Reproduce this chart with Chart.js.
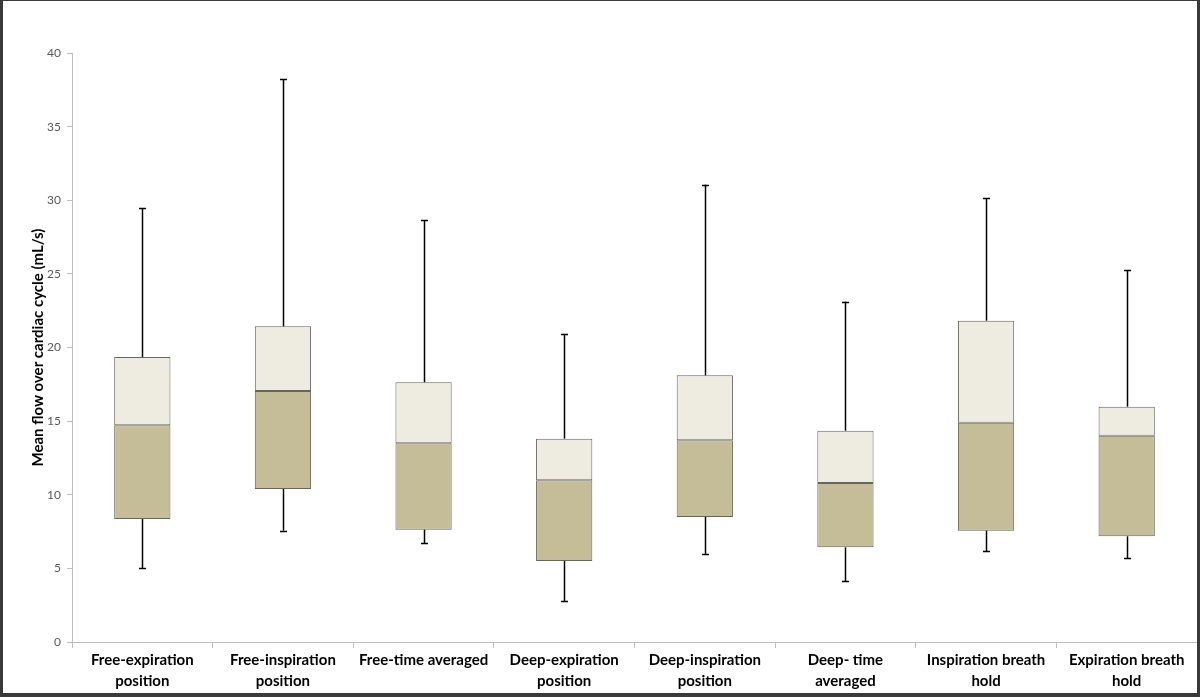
<!DOCTYPE html>
<html>
<head>
<meta charset="utf-8">
<script src="https://cdn.jsdelivr.net/npm/chart.js@4.4.1/dist/chart.umd.min.js"></script>
<style>
  html, body { margin: 0; padding: 0; background: #fff; }
  #frame {
    width: 1194px; height: 692px;
    border-style: solid; border-color: #3a3a3a;
    border-width: 1px 3px 4px 3px;
    background: #fff;
  }
</style>
</head>
<body>
<div id="frame"><canvas id="boxChart" width="1194" height="692"></canvas></div>
<script>
var categories = [
    ["Free-expiration", "position"],
    ["Free-inspiration", "position"],
    "Free-time averaged",
    ["Deep-expiration", "position"],
    ["Deep-inspiration", "position"],
    ["Deep- time", "averaged"],
    ["Inspiration breath", "hold"],
    ["Expiration breath", "hold"]
];
var minVals    = [5.0, 7.56, 6.72, 2.78, 5.98, 4.14, 6.18, 5.70];
var q1Vals     = [8.35, 10.39, 7.63, 5.50, 8.49, 6.43, 7.56, 7.18];
var medianVals = [14.72, 17.05, 13.49, 10.98, 13.70, 10.80, 14.89, 14.01];
var q3Vals     = [19.35, 21.44, 17.64, 13.81, 18.11, 14.35, 21.82, 15.98];
var maxVals    = [29.45, 38.21, 28.64, 20.92, 31.06, 23.11, 30.15, 25.24];

var lowerBox = q1Vals.map(function (v, i) { return [v, medianVals[i]]; });
var upperBox = medianVals.map(function (v, i) { return [v, q3Vals[i]]; });

// whiskers drawn from the min/max arrays through the chart scales
var whiskers = {
    id: 'whiskers',
    afterDatasetsDraw: function (chart) {
        var ctx = chart.ctx;
        var x = chart.scales.x, y = chart.scales.y;
        ctx.save();
        ctx.strokeStyle = '#000';
        ctx.lineWidth = 1.5;
        categories.forEach(function (c, i) {
            var cx = Math.round(x.getPixelForValue(i)) + 0.5;
            var segs = [[q3Vals[i], maxVals[i]], [minVals[i], q1Vals[i]]];
            segs.forEach(function (s) {
                ctx.beginPath();
                ctx.moveTo(cx, y.getPixelForValue(s[0]));
                ctx.lineTo(cx, y.getPixelForValue(s[1]));
                ctx.stroke();
            });
            [maxVals[i], minVals[i]].forEach(function (v) {
                var py = Math.round(y.getPixelForValue(v)) + 0.5;
                ctx.beginPath();
                ctx.moveTo(cx - 3.5, py);
                ctx.lineTo(cx + 3.5, py);
                ctx.stroke();
            });
        });
        ctx.restore();
    }
};

var boxChart = new Chart("boxChart", {
    type: 'bar',
    data: {
        labels: categories,
        datasets: [
            {
                label: 'Q1-Median',
                data: lowerBox,
                backgroundColor: '#c4bd97',
                borderColor: '#66665e',
                borderWidth: 1,
                borderSkipped: false,
                grouped: false
            },
            {
                label: 'Median-Q3',
                data: upperBox,
                backgroundColor: '#eeece1',
                borderColor: '#66665e',
                borderWidth: 1,
                borderSkipped: false,
                grouped: false
            }
        ]
    },
    plugins: [whiskers],
    options: {
        responsive: false,
        animation: false,
        categoryPercentage: 0.4,
        barPercentage: 1.0,
        layout: { padding: { top: 52, right: 0, bottom: 0, left: 0 } },
        plugins: {
            legend: { display: false },
            tooltip: { enabled: false }
        },
        scales: {
            x: {
                offset: true,
                grid: { display: true, drawOnChartArea: false, offset: true, tickLength: 6, color: '#bfbfbf' },
                border: { color: '#bfbfbf' },
                ticks: {
                    color: '#000',
                    font: { family: 'Lato', size: 15, weight: 'bold', lineHeight: 1.4 },
                    maxRotation: 0,
                    autoSkip: false,
                    padding: 2
                },
                afterFit: function (axis) { axis.height = 51; }
            },
            y: {
                min: 0,
                max: 40,
                ticks: {
                    stepSize: 5,
                    color: '#595959',
                    font: { family: 'Lato', size: 12 },
                    padding: 6
                },
                grid: { display: true, drawOnChartArea: false, tickLength: 5, color: '#bfbfbf' },
                border: { color: '#bfbfbf' },
                title: {
                    display: true,
                    text: 'Mean flow over cardiac cycle (mL/s)',
                    color: '#000',
                    font: { family: 'Lato', size: 15, weight: 'bold' },
                    padding: { top: 26, bottom: 0 }
                },
                afterFit: function (axis) { axis.width = 69; }
            }
        }
    }
});
</script>
</body>
</html>
